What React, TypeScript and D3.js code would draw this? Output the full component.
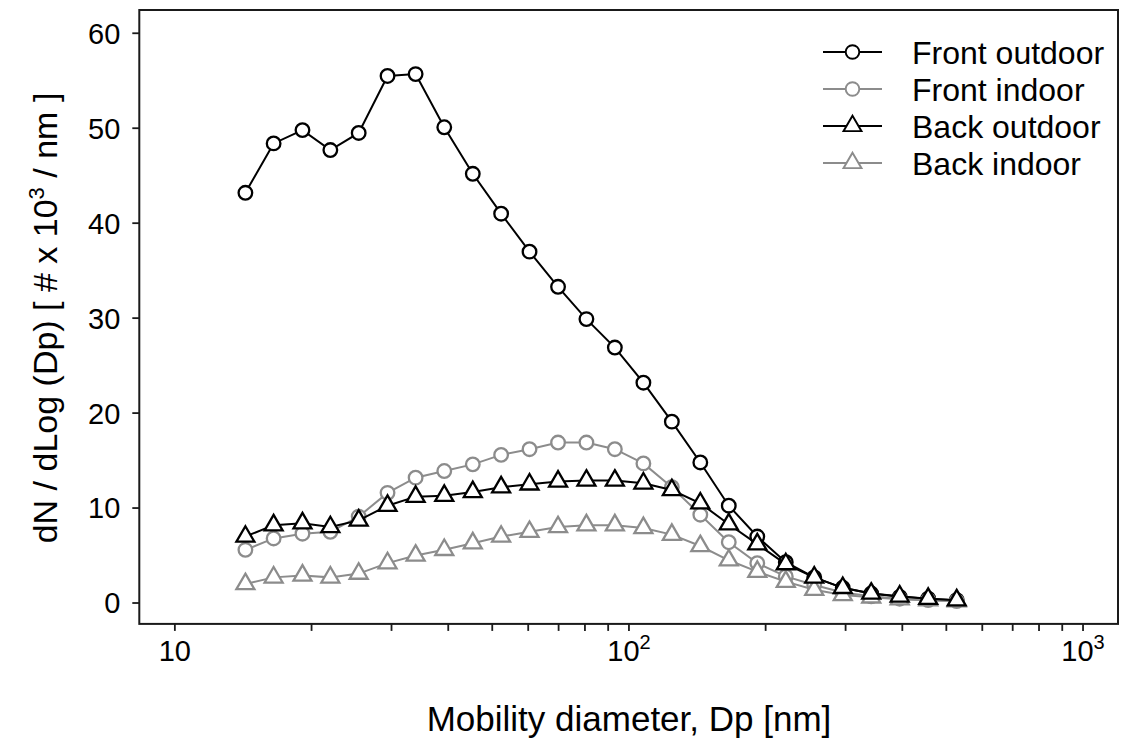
import React, { useEffect, useRef } from "react";
import * as d3 from "d3";

const diameters = [14.3, 16.5, 19.1, 22.0, 25.4, 29.4, 33.9, 39.2, 45.3, 52.3, 60.4, 69.8, 80.6, 93.1, 107.6, 124.3, 143.6, 165.9, 191.7, 221.5, 255.9, 295.7, 341.6, 394.7, 456.0, 527.0];

const frontOutdoor = [43.2, 48.4, 49.8, 47.7, 49.5, 55.5, 55.7, 50.1, 45.2, 41.0, 37.0, 33.3, 29.9, 26.9, 23.2, 19.1, 14.8, 10.25, 7.0, 4.3, 2.7, 1.6, 1.0, 0.65, 0.45, 0.3];
const frontIndoor = [5.6, 6.8, 7.3, 7.5, 9.1, 11.6, 13.2, 13.9, 14.6, 15.6, 16.2, 16.9, 16.9, 16.2, 14.7, 12.2, 9.3, 6.4, 4.2, 2.8, 1.9, 1.1, 0.7, 0.45, 0.3, 0.2];
const backOutdoor = [7.0, 8.2, 8.4, 8.0, 8.7, 10.25, 11.2, 11.3, 11.7, 12.2, 12.5, 12.8, 12.9, 12.9, 12.6, 11.9, 10.5, 8.3, 6.2, 4.1, 2.7, 1.6, 1.0, 0.7, 0.45, 0.3];
const backIndoor = [2.0, 2.7, 2.9, 2.7, 3.1, 4.2, 5.0, 5.6, 6.3, 7.0, 7.5, 8.0, 8.2, 8.2, 7.9, 7.2, 6.0, 4.5, 3.3, 2.25, 1.4, 0.85, 0.6, 0.4, 0.3, 0.2];

const seriesNames = ["Front outdoor", "Front indoor", "Back outdoor", "Back indoor"];
const yTicks = [0, 10, 20, 30, 40, 50, 60];
const xMajorTicks = [10, 100, 1000];
const xMinorTicks = [20, 30, 40, 50, 60, 70, 80, 90, 200, 300, 400, 500, 600, 700, 800, 900];
const xDomain = [8.35, 1194];
const yDomain = [-2.2, 62.45];

const BLACK = "#000000";
const GRAY = "#8c8c8c";
const FONT = "'Liberation Sans', Arial, Helvetica, sans-serif";

const W = 1121, H = 742;
const L = 139.3, R = 1118, T = 10, B = 623.9;

function triPath(w: number, h: number) {
  return `M0,${-2 * h / 3}L${w},${h / 3}L${-w},${h / 3}Z`;
}

export default function App() {
  const ref = useRef<SVGSVGElement>(null);
  useEffect(() => {
    const svg = d3.select(ref.current);
    svg.selectAll("*").remove();
    const x = d3.scaleLog().domain(xDomain).range([L, R]);
    const y = d3.scaleLinear().domain(yDomain).range([B, T]);

    svg.append("rect").attr("width", W).attr("height", H).attr("fill", "#fff");

    // frame
    svg.append("rect").attr("x", L).attr("y", T).attr("width", R - L).attr("height", B - T)
      .attr("fill", "none").attr("stroke", "#1a1a1a").attr("stroke-width", 2);

    // y ticks
    const yg = svg.append("g");
    yTicks.forEach(t => {
      yg.append("line").attr("x1", L - 7).attr("x2", L).attr("y1", y(t)).attr("y2", y(t))
        .attr("stroke", "#1a1a1a").attr("stroke-width", 1.8);
      yg.append("text").attr("x", L - 19).attr("y", y(t)).attr("dy", "0.36em")
        .attr("text-anchor", "end").attr("font-family", FONT).attr("font-size", 29)
        .attr("fill", "#000").text(String(t));
    });

    // x ticks
    const xg = svg.append("g");
    [...xMajorTicks, ...xMinorTicks].forEach(t => {
      xg.append("line").attr("x1", x(t)).attr("x2", x(t)).attr("y1", B).attr("y2", B + 7)
        .attr("stroke", "#1a1a1a").attr("stroke-width", 1.8);
    });
    xMajorTicks.forEach((t, i) => {
      const txt = xg.append("text").attr("x", x(t)).attr("y", 661)
        .attr("text-anchor", "middle").attr("font-family", FONT).attr("font-size", 29).attr("fill", "#000");
      if (i === 0) {
        txt.text("10");
      } else {
        txt.append("tspan").text("10");
        txt.append("tspan").attr("dy", -12).attr("font-size", 20).text(String(i + 1));
      }
    });

    // axis titles
    svg.append("text").attr("x", 629).attr("y", 731)
      .attr("text-anchor", "middle").attr("font-family", FONT).attr("font-size", 35).attr("fill", "#000")
      .text("Mobility diameter, Dp [nm]");
    const yt = svg.append("text").attr("transform", `translate(57,318) rotate(-90)`)
      .attr("text-anchor", "middle").attr("font-family", FONT).attr("font-size", 34).attr("fill", "#000");
    yt.append("tspan").text("dN / dLog (Dp) [ # x 10");
    yt.append("tspan").attr("dy", -13).attr("font-size", 22).text("3");
    yt.append("tspan").attr("dy", 13).text(" / nm ]");

    const data = [
      { name: seriesNames[0], vals: frontOutdoor, color: BLACK, shape: "circle" },
      { name: seriesNames[1], vals: frontIndoor, color: GRAY, shape: "circle" },
      { name: seriesNames[2], vals: backOutdoor, color: BLACK, shape: "tri" },
      { name: seriesNames[3], vals: backIndoor, color: GRAY, shape: "tri" },
    ];
    const drawOrder = [0, 1, 3, 2];
    const line = d3.line<number>().x((_, i) => x(diameters[i])).y(d => y(d));

    drawOrder.forEach(k => {
      const s = data[k];
      const g = svg.append("g");
      g.append("path").attr("d", line(s.vals)).attr("fill", "none")
        .attr("stroke", s.color).attr("stroke-width", 2);
      s.vals.forEach((v, i) => {
        if (s.shape === "circle") {
          g.append("circle").attr("cx", x(diameters[i])).attr("cy", y(v)).attr("r", 6.8)
            .attr("fill", "#fff").attr("stroke", s.color).attr("stroke-width", 2.3);
        } else {
          g.append("path").attr("transform", `translate(${x(diameters[i])},${y(v)})`)
            .attr("d", triPath(9, 15.5)).attr("fill", "#fff")
            .attr("stroke", s.color).attr("stroke-width", 2.3).attr("stroke-linejoin", "miter");
        }
      });
    });

    // legend
    const lg = svg.append("g");
    const rowsY = [52, 89, 126, 163];
    data.forEach((s, i) => {
      const yy = rowsY[i];
      lg.append("line").attr("x1", 823).attr("x2", 882).attr("y1", yy).attr("y2", yy)
        .attr("stroke", s.color).attr("stroke-width", 2);
      if (s.shape === "circle") {
        lg.append("circle").attr("cx", 852.5).attr("cy", yy).attr("r", 6.8)
          .attr("fill", "#fff").attr("stroke", s.color).attr("stroke-width", 1.9);
      } else {
        lg.append("path").attr("transform", `translate(852.5,${yy})`)
          .attr("d", triPath(9, 15.5)).attr("fill", "#fff")
          .attr("stroke", s.color).attr("stroke-width", 1.9);
      }
      lg.append("text").attr("x", 912).attr("y", yy).attr("dy", "0.36em")
        .attr("font-family", FONT).attr("font-size", 32).attr("fill", "#000").text(s.name);
    });
  }, []);

  return (
    <svg ref={ref} width={W} height={H}
      style={{ position: "absolute", left: 0, top: 0, display: "block" }} />
  );
}
